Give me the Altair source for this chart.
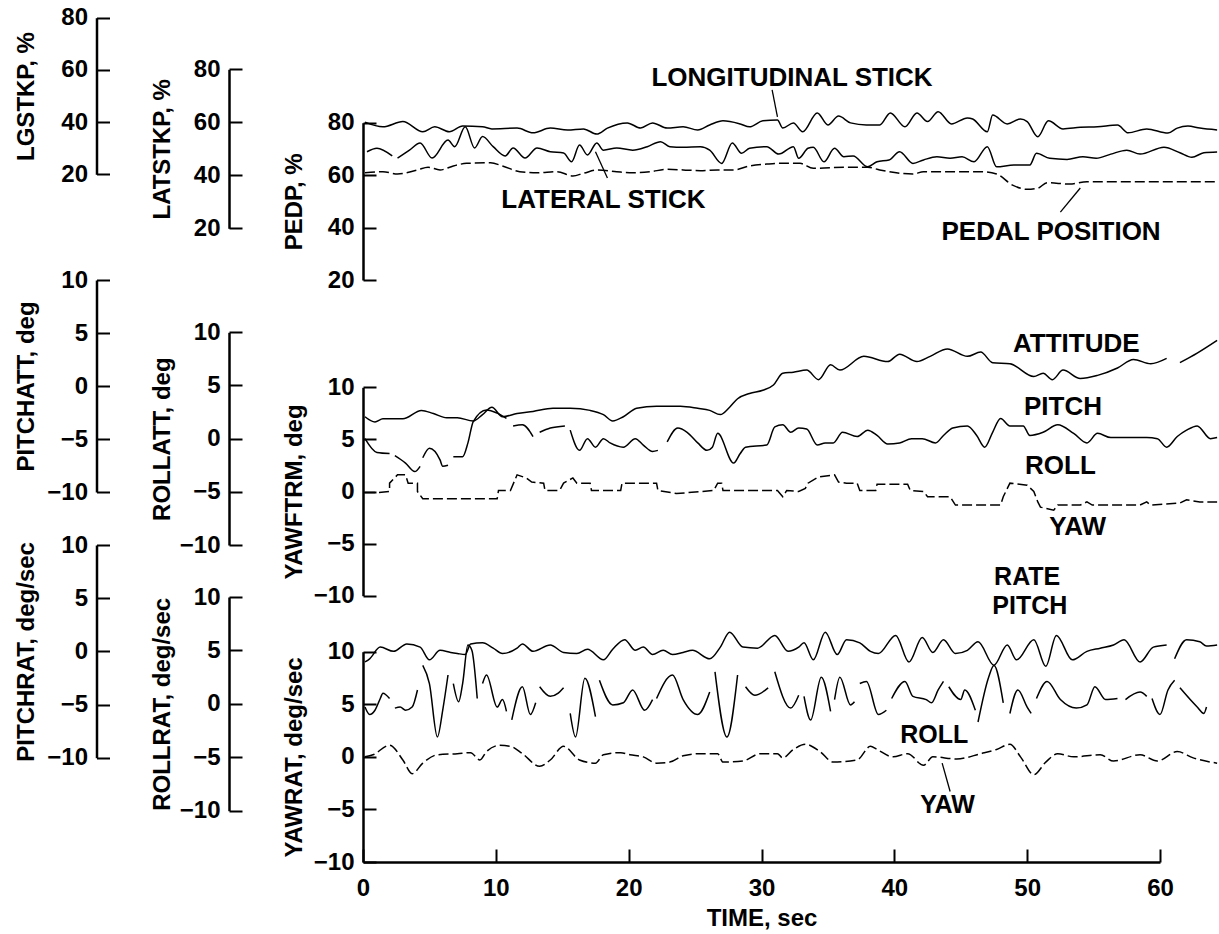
import altair as alt
import pandas as pd

FONT = "Liberation Sans"

TIME_TICKS = [0, 10, 20, 30, 40, 50, 60]
PCT_TICKS = [20, 40, 60, 80]
DEG_TICKS = [-10, -5, 0, 5, 10]

# ---- control positions, % : (time s, value); None marks a break in the trace
LONGITUDINAL_STICK = [
    (0.15, 40.0), (1.5, 38.2), (3.0, 40.2), (4.5, 36.3), (5.4, 38.2), (6.5, 36.3), (7.5, 38.5),
    (9.0, 38.2), (9.7, 37.4), (11.6, 37.7), (12.8, 35.9), (14.1, 37.7), (15.4, 37.0), (16.6, 37.4),
    (17.6, 35.4), (18.4, 37.7), (19.9, 39.7), (20.9, 37.7), (21.8, 39.7), (22.9, 37.7), (24.1, 38.2),
    (25.2, 37.0), (26.1, 38.9), (27.1, 40.5), (28.4, 39.3), (29.1, 38.2), (30.1, 40.5), (31.2, 40.8),
    (31.6, 37.7), (32.4, 39.7), (33.1, 36.3), (34.2, 43.5), (35.0, 38.9), (35.8, 42.3), (36.7, 39.7),
    (37.9, 38.9), (38.9, 38.9), (39.7, 43.5), (40.8, 38.2), (41.7, 43.5), (42.5, 40.2), (43.3, 44.0),
    (44.3, 39.3), (45.5, 41.6), (45.9, 41.2), (47.0, 36.3), (47.4, 42.7), (48.5, 39.3), (49.5, 41.2),
    (50.0, 40.2), (50.8, 34.4), (51.6, 40.5), (52.7, 37.4), (54.0, 38.0), (55.3, 38.2), (56.8, 38.9),
    (57.6, 35.9), (59.0, 37.4), (60.6, 35.8), (61.3, 37.7), (62.1, 38.5), (63.0, 37.7), (64.3, 37.0),
]
LATERAL_STICK = [
    (0.3, 48.9), (1.05, 50.2), (2.2, 47.3), None,
    (2.6, 46.5), (3.5, 49.5), (4.3, 52.2), (5.2, 46.5), (6.4, 53.3), (6.9, 50.8), (7.7, 58.3),
    (8.4, 50.3), (9.0, 54.6), (9.8, 50.8), (10.7, 47.3), (11.3, 50.3), (12.2, 46.5), (13.1, 50.3),
    (14.1, 48.9), (15.1, 48.4), (15.7, 45.1), (16.3, 51.4), (16.9, 47.7), (17.6, 52.2), (18.1, 49.5),
    (19.1, 50.3), (20.3, 49.5), (21.4, 50.8), (22.4, 52.7), (23.1, 50.8), (24.1, 50.6), (25.4, 50.8),
    (26.1, 49.5), (27.0, 44.5), (27.8, 52.2), (28.5, 48.3), (29.1, 50.2), (30.4, 50.8), (31.3, 48.0),
    (32.4, 50.8), (32.8, 46.4), (33.5, 50.2), (33.9, 50.6), (34.7, 45.1), (35.5, 50.2), (36.2, 47.0),
    (36.9, 47.3), (38.0, 43.2), (38.7, 45.1), (39.6, 45.8), (40.4, 48.9), (41.4, 44.5), (42.2, 45.8),
    (43.2, 47.0), (44.2, 46.4), (45.1, 47.0), (46.0, 45.1), (47.0, 50.8), (47.7, 43.2), (49.0, 43.9),
    (50.2, 43.9), (50.7, 48.3), (51.7, 46.4), (53.0, 46.0), (54.2, 47.0), (55.2, 46.4), (56.3, 48.0),
    (57.5, 49.5), (58.5, 48.0), (60.3, 50.6), (61.5, 48.5), (62.4, 46.8), (63.3, 48.5), (64.3, 48.8),
]
PEDAL_POSITION = [
    (0.15, 60.9), (1.5, 61.3), (2.6, 60.4), (4.1, 62.0), (4.9, 63.0), (5.8, 62.0), (6.8, 63.5),
    (7.8, 64.5), (9.6, 64.7), (10.5, 63.5), (11.8, 61.3), (13.1, 60.9), (14.6, 61.3), (15.8, 59.7),
    (16.6, 60.7), (17.7, 62.0), (19.1, 61.3), (20.3, 60.9), (21.6, 61.3), (22.9, 62.2), (24.1, 62.0),
    (25.4, 61.7), (26.7, 62.0), (27.9, 62.0), (29.1, 63.5), (30.4, 64.2), (31.4, 64.5), (32.9, 64.5),
    (33.9, 62.6), (36.4, 63.0), (38.0, 63.0), (38.9, 62.0), (41.4, 60.4), (42.2, 61.3), (44.4, 61.3),
    (46.5, 61.3), (47.7, 60.4), (48.9, 56.2), (50.0, 54.6), (50.8, 55.0), (51.5, 57.1), (53.2, 56.6),
    (54.5, 57.5), (56.5, 57.5), (59.0, 57.5), (61.5, 57.5), (64.3, 57.5),
]

# ---- attitudes, deg
PITCH_ATTITUDE = [
    (0.15, -2.9), (0.9, -3.4), (1.5, -3.1), (3.0, -3.1), (4.4, -2.3), (5.3, -2.6), (6.3, -3.0),
    (7.1, -3.0), (8.3, -3.3), (9.0, -2.7), (9.7, -2.0), (10.5, -2.9), (11.6, -2.6), (12.8, -2.4),
    (14.3, -2.1), (15.6, -2.1), (17.1, -2.3), (18.1, -2.7), (18.8, -3.3), (19.6, -2.9), (20.6, -2.1),
    (22.1, -1.9), (23.9, -1.9), (25.2, -2.1), (26.1, -2.3), (26.9, -2.7), (27.6, -2.0), (28.2, -1.2),
    (29.1, -0.7), (30.1, -0.4), (30.9, 0.1), (31.6, 1.2), (32.4, 1.3), (33.4, 1.5), (34.3, 0.6),
    (35.2, 2.0), (35.9, 1.5), (37.7, 2.8), (39.5, 2.3), (40.4, 3.0), (41.7, 2.3), (42.7, 2.8),
    (44.0, 3.5), (45.5, 2.8), (46.5, 3.2), (47.4, 2.2), (48.7, 2.1), (50.5, 0.9), (51.2, 1.2),
    (51.9, 0.6), (52.7, 1.5), (54.0, 0.7), (55.3, 1.0), (56.8, 1.7), (58.0, 2.5), (59.3, 2.1),
    (60.5, 2.6), None, (61.5, 2.2), (62.8, 3.1), (64.3, 4.3),
]
ROLL_ATTITUDE = [
    (0.15, 0.0), (1.05, -1.3), (2.0, -1.4), None,
    (2.4, -1.6), (3.2, -2.3), (3.9, -3.1), (4.3, -2.6), None,
    (4.5, -1.8), (5.0, -0.9), (5.8, -2.0), (6.0, -2.6), (6.4, -2.5), None,
    (6.8, -1.7), (7.5, -1.7), (7.9, -0.4), (8.3, 1.6), (9.3, 2.7), (10.1, 2.4), (10.8, 1.9), None,
    (11.3, 1.2), (12.0, 1.3), (12.8, 0.2), None,
    (13.3, 0.6), (14.1, 1.0), (15.2, 1.2), None,
    (15.6, 0.8), (16.3, -1.1), (16.9, 0.0), (17.5, -0.8), (18.1, 0.0), (18.6, -0.4), (19.6, -0.8),
    (20.5, 0.0), (21.1, -0.6), (21.8, -1.2), (22.2, -1.1), None,
    (22.9, -0.3), (23.7, 1.0), (24.4, 0.6), (25.2, -0.4), (25.9, -1.1), (26.3, -0.8), (26.7, 0.5),
    (27.9, -2.3), (28.4, -1.4), (28.8, -0.8), (30.4, -0.6), (31.0, 1.1), (31.6, 1.3), (32.2, 0.6),
    (32.8, 1.0), (33.4, 0.9), (34.2, -0.6), (34.8, -0.4), (35.4, -0.4), (36.1, 0.6), (37.2, 0.2),
    (38.0, 0.8), (38.7, 0.3), (39.5, -0.5), (40.4, -0.4), (41.3, 0.0), (42.1, 0.0), (43.1, -0.4),
    (43.7, 0.3), (44.4, 1.0), (45.5, 1.2), (46.2, 0.3), (46.8, -0.8), (47.4, 0.6), (48.0, 1.9),
    (48.7, 1.2), (49.7, 1.2), (50.2, 0.3), (51.2, 0.6), (52.3, 1.3), (53.5, 0.5), (54.5, -0.4),
    (55.3, 0.5), (56.3, 0.1), (57.8, 0.1), (59.0, 0.1), (59.8, 0.0), (60.5, -0.8), (61.3, 0.2),
    (62.0, 0.8), (62.8, 1.2), (63.8, 0.0), (64.3, 0.1),
]
YAW_ATTITUDE = [
    (0.15, -0.1), (1.1, -0.1), (2.0, 0.0), (2.0, 0.8), (2.6, 1.6), (3.2, 1.6), (3.4, 0.8), (4.1, 0.8),
    (4.1, 0.0), (4.5, -0.7), (10.1, -0.7), (10.2, 0.1), (11.1, 0.1), (11.6, 1.6), (12.3, 1.3),
    (12.7, 0.9), (13.6, 0.8), (13.7, 0.1), (14.8, 0.1), (15.1, 0.8), (15.8, 1.3), (16.1, 0.8),
    (17.1, 0.8), (17.2, 0.1), (19.4, 0.1), (19.5, 0.8), (22.1, 0.8), (22.2, 0.1), (23.6, -0.2),
    (26.4, 0.1), (26.7, 0.8), (27.0, 0.8), (27.1, 0.1), (31.2, 0.1), (31.6, -0.5), (31.9, 0.1),
    (32.8, 0.0), (33.3, 0.3), (33.5, 0.8), (34.3, 1.4), (35.5, 1.6), (35.8, 0.9), (36.4, 0.8),
    (37.2, 0.8), (37.4, 0.1), (38.6, 0.1), (38.7, 0.7), (41.0, 0.7), (41.2, 0.1), (42.2, 0.0),
    (42.5, -0.5), (44.2, -0.5), (44.6, -1.3), (48.0, -1.3), (48.2, -0.5), (48.7, 0.8), (50.0, 0.6),
    (50.5, 0.0), (50.8, -1.0), (51.0, -1.5), (52.0, -1.8), (52.3, -1.3), (54.0, -1.3), (54.5, -1.0),
    (54.9, -1.3), (58.5, -1.3), (59.0, -1.0), (59.3, -1.3), (61.5, -1.1), (62.0, -0.8), (63.0, -1.0),
    (64.3, -1.0),
]

# ---- angular rates, deg/sec
PITCH_RATE = [
    (0.15, -1.0), (0.5, -0.7), (1.3, 0.4), (2.3, 0.0), (3.3, 0.7), (4.3, 0.4), (5.0, -0.8), (5.8, 0.1),
    (6.6, -0.1), (7.1, -0.2), (7.7, -0.3), (8.1, 0.7), (9.0, 0.8), (9.8, 0.3), (10.5, -0.2), (11.6, 0.3),
    (12.0, 0.7), (12.8, 0.0), (14.1, 0.6), (15.1, -0.1), (16.1, -0.2), (16.9, 0.2), (18.1, -0.8),
    (18.8, 0.2), (19.7, 1.1), (20.5, 0.1), (21.1, 0.4), (21.8, -0.3), (22.6, 0.1), (23.3, -0.3),
    (24.1, -0.1), (24.8, 0.1), (26.1, -0.7), (26.9, 0.4), (27.6, 1.8), (28.6, 0.4), (29.7, 0.3),
    (31.0, 1.5), (32.0, 0.0), (32.8, 0.4), (33.2, 0.8), (33.9, -0.8), (34.8, 1.8), (35.7, -0.3),
    (36.4, 1.1), (37.4, 0.8), (38.2, 0.0), (38.8, -0.2), (40.1, 1.5), (41.1, -1.0), (42.1, 1.3),
    (42.9, -0.1), (43.7, 1.1), (44.6, -0.2), (45.5, 0.1), (46.3, 0.9), (47.5, -1.3), (48.5, 0.6),
    (49.2, -0.8), (50.5, 1.1), (51.4, -1.4), (52.2, 1.5), (53.4, -0.8), (54.5, 0.0), (55.5, 0.3),
    (56.5, 0.6), (57.3, 1.1), (58.5, -1.0), (59.5, 0.4), (60.5, 0.6), None,
    (61.1, -0.7), (62.0, 1.1), (63.0, 0.9), (63.5, 0.5), (64.3, 0.6),
]
ROLL_RATE = [
    (0.15, -0.3), (0.5, -1.0), (0.9, -0.6), (1.3, 0.5), (1.5, 1.0), (2.0, 0.5), None,
    (2.4, -0.4), (2.8, -0.3), (3.2, -0.6), (3.7, -0.3), (4.1, 1.3), None,
    (4.5, 3.6), (5.0, 1.9), (5.6, -3.1), (6.0, -0.6), (6.4, 2.7), None,
    (6.8, 1.9), (7.2, 0.2), (7.5, 1.9), (7.9, 5.5), (8.2, 5.0), (8.6, 0.5), None,
    (9.0, 1.9), (9.3, 2.7), (10.1, -0.3), (10.5, 0.4), (10.8, -0.7), None,
    (11.2, -1.5), (12.0, 1.6), (12.6, -1.0), (13.0, 0.1), None,
    (13.3, 1.6), (14.1, 0.7), (14.7, 1.0), (15.1, 1.5), None,
    (15.6, -0.9), (16.0, -3.1), (16.7, 2.4), (17.5, -1.2), None,
    (17.8, 2.2), (18.8, -0.1), (19.6, 0.1), (20.3, 1.3), (21.2, -0.6), (21.8, 0.4), None,
    (22.1, 0.5), (23.3, 2.7), (24.1, 0.4), (25.2, -1.0), (26.1, 1.1), None,
    (26.5, 3.0), (27.4, -3.1), (28.2, 2.7), None,
    (28.8, 1.6), (29.5, 0.8), (30.5, 1.5), None,
    (31.0, 3.0), (32.2, -0.4), (32.8, 0.8), None,
    (33.2, 0.7), (33.7, -1.5), (34.5, 2.5), (35.2, -0.7), None,
    (35.5, 0.4), (35.9, 2.5), (36.7, -0.1), (37.0, 0.2), None,
    (37.4, 1.9), (37.9, 2.1), (38.8, -1.0), (39.4, -0.6), None,
    (39.8, 0.5), (40.8, 2.1), (41.4, 0.7), (42.4, 0.4), (42.8, 0.1), (43.3, 1.3), (43.7, 2.1), None,
    (44.1, 1.6), (45.0, 0.4), (45.3, 1.3), (46.1, -0.6), None,
    (46.3, -1.7), (47.1, 2.5), (47.5, 3.6), (48.2, 0.1), None,
    (48.7, -0.9), (49.3, 1.3), (50.0, -0.3), (50.3, -0.9), None,
    (50.7, 0.5), (51.5, 2.1), (52.5, 0.4), (53.7, -0.4), (54.5, -0.1), (55.1, 1.6), (55.9, 0.4),
    (56.8, 0.5), None,
    (57.4, 0.4), (58.5, 1.1), (59.0, 0.7), None,
    (59.4, 0.5), (60.0, -1.0), (60.6, 1.3), (61.1, 2.2), None,
    (61.5, 1.5), (62.8, -0.3), (63.3, -0.9), (63.5, -0.3),
]
YAW_RATE = [
    (0.15, 0.0), (0.75, 0.2), (2.0, 1.1), (3.0, -0.3), (3.7, -1.6), (4.5, -0.6), (5.6, 0.2), (7.1, 0.3),
    (8.1, 0.4), (8.8, -0.3), (9.3, 0.5), (10.3, 1.1), (11.1, 1.0), (12.0, 0.3), (13.3, -0.9),
    (14.1, -0.3), (15.1, 1.0), (16.3, -0.3), (17.5, -0.6), (18.1, 0.2), (19.4, 0.4), (20.1, 0.2),
    (21.1, 0.0), (22.1, -0.6), (23.1, -0.5), (24.1, 0.1), (25.4, 0.3), (26.7, 0.3), (27.1, -0.5),
    (28.6, -0.4), (29.9, 0.3), (31.2, 0.3), (31.6, -0.1), (32.4, 0.7), (33.3, 1.2), (34.4, 0.5),
    (35.4, -0.5), (37.2, -0.3), (38.2, 1.0), (38.7, 0.7), (39.9, 0.0), (41.0, 0.3), (42.2, -0.8),
    (42.9, 0.0), (44.7, -0.2), (46.5, 0.3), (47.7, 0.7), (48.7, 1.2), (49.5, 0.0), (50.5, -1.7),
    (51.4, -0.5), (52.3, 0.3), (53.5, 0.0), (55.5, 0.2), (56.5, -0.4), (58.5, 0.2), (59.8, -0.4),
    (61.3, 0.5), (62.5, -0.1), (64.3, -0.6),
]

# ---- trace labels: (text, time s, value on the panel's innermost scale)
CONTROL_LABELS = [("LONGITUDINAL STICK", 32.3, 94.0), ("LATERAL STICK", 18.1, 47.5),
                  ("PEDAL POSITION", 51.8, 35.3)]
ATTITUDE_LABELS = [("ATTITUDE", 53.7, 13.4), ("PITCH", 52.7, 7.3), ("ROLL", 52.5, 1.7),
                   ("YAW", 53.8, -4.2)]
RATE_LABELS = [("RATE", 50.0, 16.3), ("PITCH", 50.2, 13.55), ("ROLL", 43.0, 1.3), ("YAW", 44.0, -5.3)]
# leader lines: (t1, v1, t2, v2)
CONTROL_LEADERS = [(30.8, 92.5, 31.2, 82.2), (17.5, 68.9, 18.4, 58.9), (54.0, 55.1, 52.5, 45.9)]
RATE_LEADERS = [(43.6, -0.6, 44.2, -3.3)]


def frame(points):
    rows, seg = [], 0
    for p in points:
        if p is None:
            seg += 1
        else:
            rows.append({"t": p[0], "v": p[1], "seg": seg})
    return pd.DataFrame(rows)


# plot area; the y scales below place each channel (pixels from the chart top)
W, H = 797, 862
COL_OFFSET = {1: -W - 266.5, 2: -W - 134, 3: -W}
COL_TITLE_X = {1: -63, 2: -60, 3: -62}

X = alt.X(
    "t:Q",
    scale=alt.Scale(domain=[0, 60], nice=False, zero=False),
    axis=alt.Axis(
        title="TIME, sec", orient="top", offset=-H, values=TIME_TICKS,
        tickSize=13, tickWidth=2, domainWidth=2.5, labelPadding=-27,
        labelBaseline="top", labelFlush=False, titleY=63,
        titleBaseline="alphabetic", grid=False,
    ),
)


def yscale(domain, rng):
    return alt.Scale(domain=domain, range=rng, nice=False, zero=False)


def yaxis(title, ticks, col):
    # ticks point into the plot, labels and title sit to the left of the axis line
    return alt.Axis(
        title=title, orient="right", offset=COL_OFFSET[col], values=ticks,
        tickSize=13, tickWidth=2, domainWidth=2.5,
        labelAlign="right", labelBaseline="middle", labelPadding=-22,
        labelFlush=False, labelOverlap=False,
        titleAngle=270, titleX=COL_TITLE_X[col], titleAlign="center",
        titleBaseline="alphabetic", grid=False,
    )


SCALES = {
    "LGSTKP": yscale([20, 80], [174.3, 17.7]),
    "LATSTKP": yscale([20, 80], [228.3, 69.3]),
    "PEDP": yscale([20, 80], [280, 122.7]),
    "PITCHATT": yscale([-10, 10], [492, 280]),
    "ROLLATT": yscale([-10, 10], [545, 332.3]),
    "YAWFTRM": yscale([-10, 10], [595.7, 387.3]),
    "PITCHRAT": yscale([-10, 10], [757.7, 545]),
    "ROLLRAT": yscale([-10, 10], [810.7, 597]),
    "YAWRAT": yscale([-10, 10], [862, 651.7]),
}


def trace(points, key, title, ticks, col, dashed=False, smooth=True):
    kw = {"strokeDash": [10, 4]} if dashed else {}
    return alt.Chart(frame(points)).mark_line(
        color="black", strokeWidth=1.5,
        interpolate="monotone" if smooth else "linear", **kw
    ).encode(
        x=X,
        y=alt.Y("v:Q", scale=SCALES[key], axis=yaxis(title, ticks, col)),
        detail="seg:N",
    )


def labels(items, key, size=26):
    df = pd.DataFrame(items, columns=["label", "t", "v"])
    return alt.Chart(df).mark_text(
        font=FONT, fontWeight="bold", fontSize=size, color="black",
        align="center", baseline="alphabetic",
    ).encode(x=X, y=alt.Y("v:Q", scale=SCALES[key], axis=None), text="label:N")


def leaders(items, key):
    df = pd.DataFrame(items, columns=["t", "v", "t2", "v2"])
    return alt.Chart(df).mark_rule(color="black", strokeWidth=1.3).encode(
        x=X, x2="t2:Q",
        y=alt.Y("v:Q", scale=SCALES[key], axis=None), y2="v2:Q",
    )


layers = [
    trace(LONGITUDINAL_STICK, "LGSTKP", "LGSTKP, %", PCT_TICKS, 1),
    trace(LATERAL_STICK, "LATSTKP", "LATSTKP, %", PCT_TICKS, 2),
    trace(PEDAL_POSITION, "PEDP", "PEDP, %", PCT_TICKS, 3, dashed=True),
    trace(PITCH_ATTITUDE, "PITCHATT", "PITCHATT, deg", DEG_TICKS, 1),
    trace(ROLL_ATTITUDE, "ROLLATT", "ROLLATT, deg", DEG_TICKS, 2),
    trace(YAW_ATTITUDE, "YAWFTRM", "YAWFTRM, deg", DEG_TICKS, 3, dashed=True, smooth=False),
    trace(PITCH_RATE, "PITCHRAT", "PITCHRAT, deg/sec", DEG_TICKS, 1),
    trace(ROLL_RATE, "ROLLRAT", "ROLLRAT, deg/sec", DEG_TICKS, 2),
    trace(YAW_RATE, "YAWRAT", "YAWRAT, deg/sec", DEG_TICKS, 3, dashed=True),
    labels(CONTROL_LABELS, "PEDP"),
    labels(ATTITUDE_LABELS, "YAWFTRM"),
    labels(RATE_LABELS, "YAWRAT", size=25),
    leaders(CONTROL_LEADERS, "PEDP"),
    leaders(RATE_LEADERS, "YAWRAT"),
]

chart = (
    alt.layer(*layers)
    .resolve_scale(y="independent")
    .resolve_axis(y="independent")
    .properties(
        width=W, height=H,
        autosize=alt.AutoSizeParams(type="none"),
        padding={"left": 363, "top": 0, "right": 59, "bottom": 72},
        background="white",
    )
    .configure_view(stroke=None)
    .configure_axis(
        labelFont=FONT, labelFontSize=24, labelFontWeight="bold", labelColor="black",
        titleFont=FONT, titleFontSize=24, titleFontWeight="bold", titleColor="black",
        domainColor="black", tickColor="black",
    )
)

chart.save("out.html", embed_options={"renderer": "svg", "actions": False})
